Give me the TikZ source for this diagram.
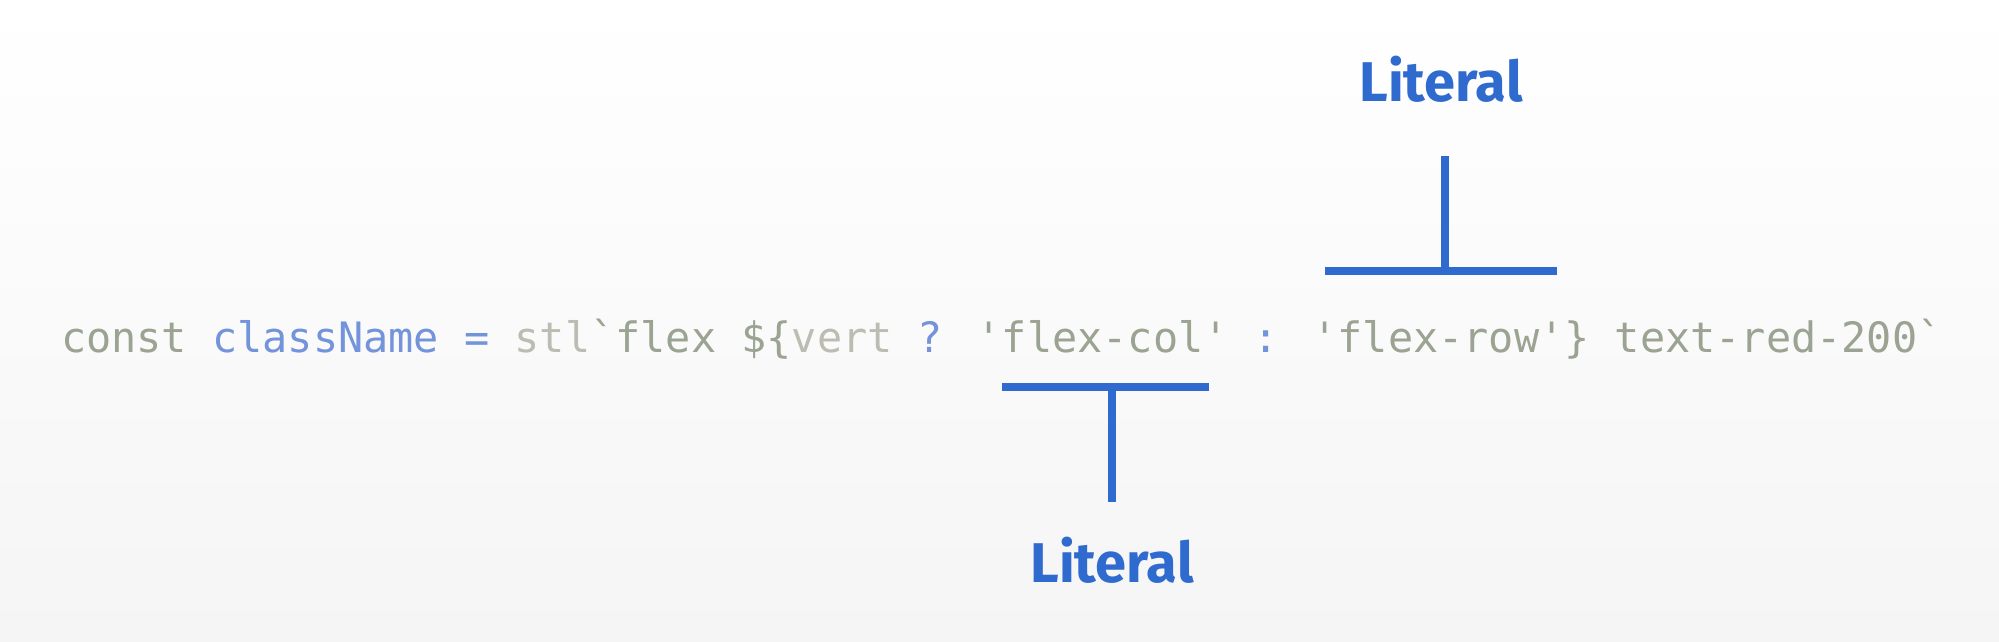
\documentclass[tikz,border=0pt]{standalone}
\usepackage{fontspec}
\newfontfamily\codefont{DejaVu Sans Mono}
\newfontfamily\labelfont{Fira Sans}
\definecolor{tblue}{HTML}{2F6BCF}
\definecolor{cgreen}{HTML}{9BA392}
\definecolor{cblue}{HTML}{7393DB}
\definecolor{cgray}{HTML}{BDBCB3}
\definecolor{bgtop}{HTML}{FFFFFF}
\definecolor{bgbot}{HTML}{F5F5F5}
\begin{document}
\begin{tikzpicture}[x=1pt,y=-1pt,
  tbar/.style={draw=tblue,line width=8pt,line cap=butt},
  lbl/.style={text=tblue,font=\labelfont\bfseries\fontsize{56}{60}\selectfont,inner sep=0pt,anchor=base},
  code/.style={font=\codefont\fontsize{41.85}{50}\selectfont,inner sep=0pt,anchor=base west}]
\shade[top color=bgtop,bottom color=bgbot] (0,0) rectangle (1999,642);
\useasboundingbox (0,0) rectangle (1999,642);
% code line
\node[code] (codeline) at (61,352) {\textcolor{cgreen}{const} \textcolor{cblue}{className =} \textcolor{cgray}{stl}\textcolor{cgreen}{`flex \$\{}\textcolor{cgray}{vert} \textcolor{cblue}{?} \textcolor{cgreen}{'flex-col'} \textcolor{cblue}{:} \textcolor{cgreen}{'flex-row'\} text-red-200`}};
% top literal
\node[lbl] (littop) at (1441,101) {Literal};
\coordinate (ttop) at (1445,156);
\coordinate (tjoin) at (1445,271);
\coordinate (tleft) at (1325,271);
\coordinate (tright) at (1557,271);
\draw[tbar] (tleft) -- (tright);
\draw[tbar] (ttop) -- (tjoin);
% bottom literal
\node[lbl] (litbot) at (1112,582) {Literal};
\coordinate (bjoin) at (1112,387);
\coordinate (bbot) at (1112,502);
\coordinate (bleft) at (1002,387);
\coordinate (bright) at (1209,387);
\draw[tbar] (bleft) -- (bright);
\draw[tbar] (bjoin) -- (bbot);
\end{tikzpicture}
\end{document}
